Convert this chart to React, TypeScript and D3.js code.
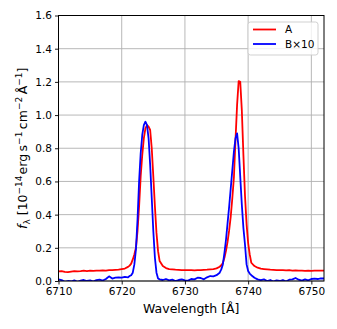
import { useEffect, useRef } from "react";
import * as d3 from "d3";

// wavelength grid [Å]
const wavelength = [
  6710.0, 6710.5, 6711.0, 6711.5, 6712.0, 6712.5, 6713.0, 6713.5, 6714.0, 6714.5,
  6715.0, 6715.5, 6716.0, 6716.5, 6717.0, 6717.5, 6718.0, 6718.5, 6719.0, 6719.5,
  6720.0, 6720.5, 6721.0, 6721.25, 6721.5, 6721.75, 6722.0, 6722.25, 6722.5, 6722.75,
  6723.0, 6723.25, 6723.5, 6723.75, 6724.0, 6724.25, 6724.5, 6724.75, 6725.0, 6725.25,
  6725.5, 6725.75, 6726.0, 6726.5, 6727.0, 6727.5, 6728.0, 6728.5, 6729.0, 6729.5,
  6730.0, 6730.5, 6731.0, 6731.5, 6732.0, 6732.5, 6733.0, 6733.5, 6734.0, 6734.5,
  6735.0, 6735.5, 6735.75, 6736.0, 6736.25, 6736.5, 6736.75, 6737.0, 6737.25, 6737.5,
  6737.75, 6738.0, 6738.25, 6738.5, 6738.75, 6739.0, 6739.25, 6739.5, 6739.75, 6740.0,
  6740.25, 6740.5, 6741.0, 6741.5, 6742.0, 6742.5, 6743.0, 6743.5, 6744.0, 6744.5,
  6745.0, 6745.5, 6746.0, 6746.5, 6747.0, 6747.5, 6748.0, 6748.5, 6749.0, 6749.5,
  6750.0, 6750.5, 6751.0, 6751.5, 6752.0,
];

// spectrum A
const fluxA = [
  0.058, 0.060, 0.055, 0.054, 0.057, 0.060, 0.058, 0.059, 0.062, 0.060,
  0.063, 0.061, 0.063, 0.062, 0.064, 0.063, 0.066, 0.065, 0.067, 0.069,
  0.072, 0.075, 0.085, 0.093, 0.105, 0.130, 0.160, 0.200, 0.300, 0.450,
  0.630, 0.760, 0.860, 0.920, 0.940, 0.930, 0.910, 0.800, 0.630, 0.450,
  0.290, 0.180, 0.120, 0.090, 0.078, 0.072, 0.070, 0.068, 0.067, 0.066,
  0.066, 0.065, 0.066, 0.064, 0.066, 0.065, 0.067, 0.068, 0.070, 0.072,
  0.076, 0.086, 0.095, 0.108, 0.140, 0.183, 0.237, 0.306, 0.390, 0.500,
  0.625, 0.850, 1.060, 1.205, 1.200, 1.030, 0.760, 0.515, 0.343, 0.229,
  0.160, 0.110, 0.090, 0.080, 0.074, 0.072, 0.070, 0.068, 0.067, 0.066,
  0.065, 0.066, 0.064, 0.065, 0.063, 0.064, 0.062, 0.063, 0.061, 0.062,
  0.061, 0.063, 0.062, 0.063, 0.062,
];

// spectrum B, scaled by 10
const fluxB = [
  0.010, 0.005, -0.005, 0.000, -0.003, 0.004, -0.005, 0.002, 0.006, 0.000,
  0.004, -0.004, 0.005, 0.008, 0.003, 0.012, 0.028, 0.015, 0.020, 0.022,
  0.020, 0.025, 0.022, 0.030, 0.035, 0.050, 0.100, 0.190, 0.370, 0.600,
  0.770, 0.880, 0.940, 0.960, 0.940, 0.860, 0.700, 0.500, 0.300, 0.140,
  0.050, 0.015, 0.010, 0.006, 0.012, 0.004, 0.008, 0.000, 0.006, 0.010,
  0.004, 0.002, 0.012, 0.010, 0.020, 0.018, 0.010, 0.022, 0.030, 0.028,
  0.035, 0.050, 0.070, 0.100, 0.170, 0.250, 0.350, 0.450, 0.560, 0.670,
  0.780, 0.860, 0.890, 0.800, 0.630, 0.460, 0.320, 0.220, 0.100, 0.060,
  0.045, 0.035, 0.020, 0.010, 0.005, 0.010, 0.000, 0.006, -0.004, 0.004,
  0.000, 0.006, -0.003, 0.008, 0.010, 0.018, 0.008, 0.002, 0.010, 0.004,
  0.012, 0.014, 0.012, 0.016, 0.015,
];

const xTicks = [6710, 6720, 6730, 6740, 6750];
const yTicks = [0, 0.2, 0.4, 0.6, 0.8, 1.0, 1.2, 1.4, 1.6];

const series = [
  { label: "A", color: "#ff0000", values: fluxA },
  { label: "B×10", color: "#0000ff", values: fluxB },
];

export default function App() {
  const svgRef = useRef<SVGSVGElement | null>(null);

  useEffect(() => {
    const width = 337;
    const height = 329;
    const margin = { left: 58.5, right: 13, top: 15.5, bottom: 48 };
    const font = "'DejaVu Sans', sans-serif";

    const svg = d3.select(svgRef.current);
    svg.selectAll("*").remove();
    svg.attr("width", width).attr("height", height);

    const x = d3.scaleLinear()
      .domain([6710, 6752])
      .range([margin.left, width - margin.right]);
    const y = d3.scaleLinear()
      .domain([0, 1.6])
      .range([height - margin.bottom, margin.top]);

    const [x0, x1] = x.range();
    const [y0, y1] = y.range();

    svg.append("rect")
      .attr("width", width).attr("height", height).attr("fill", "#fff");

    // grid
    const grid = svg.append("g").attr("stroke", "#b0b0b0").attr("stroke-width", 0.9);
    grid.selectAll("line.gx").data(xTicks).join("line")
      .attr("class", "gx")
      .attr("x1", d => x(d)).attr("x2", d => x(d))
      .attr("y1", y0).attr("y2", y1);
    grid.selectAll("line.gy").data(yTicks).join("line")
      .attr("class", "gy")
      .attr("x1", x0).attr("x2", x1)
      .attr("y1", d => y(d)).attr("y2", d => y(d));

    svg.append("clipPath").attr("id", "plot-clip")
      .append("rect")
      .attr("x", x0).attr("y", y1)
      .attr("width", x1 - x0).attr("height", y0 - y1);

    const line = d3.line<number>()
      .x((_, i) => x(wavelength[i]))
      .y(d => y(d));

    svg.append("g").attr("clip-path", "url(#plot-clip)")
      .selectAll("path")
      .data(series)
      .join("path")
      .attr("d", d => line(d.values))
      .attr("fill", "none")
      .attr("stroke", d => d.color)
      .attr("stroke-width", 1.8)
      .attr("stroke-linejoin", "round");

    // frame
    svg.append("rect")
      .attr("x", x0).attr("y", y1)
      .attr("width", x1 - x0).attr("height", y0 - y1)
      .attr("fill", "none").attr("stroke", "#000").attr("stroke-width", 1);

    // ticks
    const xa = svg.append("g")
      .attr("transform", `translate(0,${y0})`)
      .call(d3.axisBottom(x).tickValues(xTicks).tickFormat(d3.format("d")).tickSize(3.5).tickPadding(3));
    xa.select(".domain").remove();

    const ya = svg.append("g")
      .attr("transform", `translate(${x0},0)`)
      .call(d3.axisLeft(y).tickValues(yTicks).tickFormat(d3.format(".1f")).tickSize(3.5).tickPadding(3));
    ya.select(".domain").remove();

    svg.selectAll(".tick text")
      .attr("font-family", font)
      .attr("font-size", 10.5)
      .attr("fill", "#000");
    svg.selectAll(".tick line").attr("stroke", "#000").attr("stroke-width", 0.9);

    // axis labels
    svg.append("text")
      .attr("x", (x0 + x1) / 2)
      .attr("y", 313)
      .attr("text-anchor", "middle")
      .attr("font-family", font)
      .attr("font-size", 12.5)
      .text("Wavelength [Å]");

    const yl = svg.append("text")
      .attr("transform", `translate(27,${(y0 + y1) / 2}) rotate(-90)`)
      .attr("text-anchor", "middle")
      .attr("font-family", font)
      .attr("font-size", 12.5);
    const parts: [string, string, boolean?][] = [
      ["f", "base", true],
      ["λ", "sub"],
      [" [10", "base"],
      ["−14", "sup"],
      ["erg\u2009s", "base"],
      ["−1", "sup"],
      ["cm", "base"],
      ["−2", "sup"],
      ["Å", "base"],
      ["−1", "sup"],
      ["]", "base"],
    ];
    let shift = 0;
    parts.forEach(([t, kind, italic], i) => {
      const target = kind === "sup" ? -5 : kind === "sub" ? 3 : 0;
      const ts = yl.append("tspan")
        .attr("dy", target - shift)
        .attr("font-size", kind === "base" ? 12.5 : 9)
        .text(t);
      if (italic) ts.attr("font-style", "italic");
      if (i === 4) ts.attr("dx", 1);
      if (i === 6 || i === 8) ts.attr("dx", 2.5);
      shift = target;
    });

    // legend
    const lg = svg.append("g");
    lg.append("rect")
      .attr("x", 248).attr("y", 22).attr("width", 70).attr("height", 33)
      .attr("rx", 2.5)
      .attr("fill", "#fff").attr("fill-opacity", 0.8)
      .attr("stroke", "#cccccc").attr("stroke-width", 0.9);
    series.forEach((s, i) => {
      const ly = 29.5 + i * 14.5;
      lg.append("line")
        .attr("x1", 253).attr("x2", 276)
        .attr("y1", ly).attr("y2", ly)
        .attr("stroke", s.color).attr("stroke-width", 1.8);
      lg.append("text")
        .attr("x", 285).attr("y", ly + 3.8)
        .attr("font-family", font).attr("font-size", 10.5)
        .text(s.label);
    });
  }, []);

  return (
    <svg
      ref={svgRef}
      style={{ position: "absolute", left: 0, top: 0, display: "block" }}
    />
  );
}
